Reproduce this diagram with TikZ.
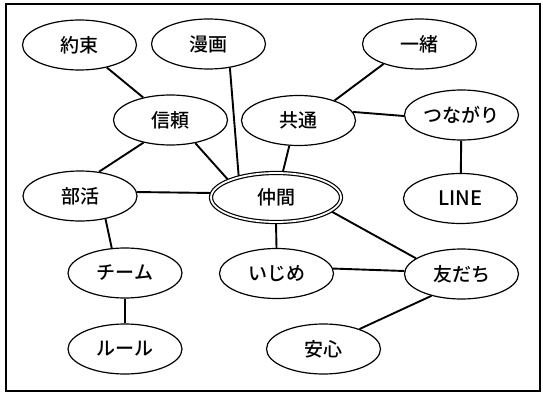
\documentclass[tikz,border=0pt]{standalone}
\usepackage{fontspec}
\newfontfamily\jp[UprightFont={* Medium}]{Noto Sans CJK JP}
\usetikzlibrary{shapes.geometric,backgrounds}
\tikzset{
  kw/.style={ellipse, draw, line width=1.2pt, fill=white, minimum width=114pt,
    minimum height=50pt, inner sep=0pt, font=\jp\fontsize{19}{19}\selectfont},
  hub/.style={kw, minimum width=130pt, minimum height=49pt, double, double distance=1.8pt},
  link/.style={line width=1.9pt},
  frame/.style={line width=2pt},
}
\begin{document}
\begin{tikzpicture}[x=1pt,y=-1pt]
\useasboundingbox (0,0) rectangle (543,401);
\draw[frame] (6,4) rectangle (540,391);
\node[kw] (yakusoku) at (79.5,45) {約束};
\node[kw] (manga) at (208.5,44) {漫画};
\node[kw] (shinrai) at (170.5,120) {信頼};
\node[kw] (kyoutsuu) at (298.5,120.5) {共通};
\node[kw] (issho) at (419.5,44) {一緒};
\node[kw] (tsunagari) at (461.5,115) {つながり};
\node[kw] (line) at (460.5,198.5) {\fontsize{20}{20}\selectfont LINE};
\node[kw] (bukatsu) at (80,196) {部活};
\node[hub] (nakama) at (276,197.5) {仲間};
\node[kw] (team) at (125,273) {チーム};
\node[kw] (rule) at (125,349) {ルール};
\node[kw] (ijime) at (276.5,273.5) {いじめ};
\node[kw] (tomodachi) at (461.5,274) {友だち};
\node[kw] (anshin) at (323.5,349) {安心};
\begin{scope}[on background layer]
\draw[link] (yakusoku) -- (shinrai);
\draw[link] (manga.-48) -- (nakama.151);
\draw[link] (shinrai.220) -- (bukatsu.52);
\draw[link] (shinrai.-43) -- (nakama.160);
\draw[link] (bukatsu.4) -- (nakama.176);
\draw[link] (kyoutsuu.250) -- (nakama.75);
\draw[link] (kyoutsuu.29) -- (issho.209);
\draw[link] (kyoutsuu.9) -- (tsunagari.181);
\draw[link] (tsunagari) -- (line);
\draw[link] (bukatsu.-42) -- (team.118);
\draw[link] (team) -- (rule);
\draw[link] (nakama.south) -- (ijime.north);
\draw[link] (nakama.-14) -- (tomodachi.161);
\draw[link] (ijime.5) -- (tomodachi.177);
\draw[link] (tomodachi.216) -- (anshin.29);
\end{scope}
\end{tikzpicture}
\end{document}
